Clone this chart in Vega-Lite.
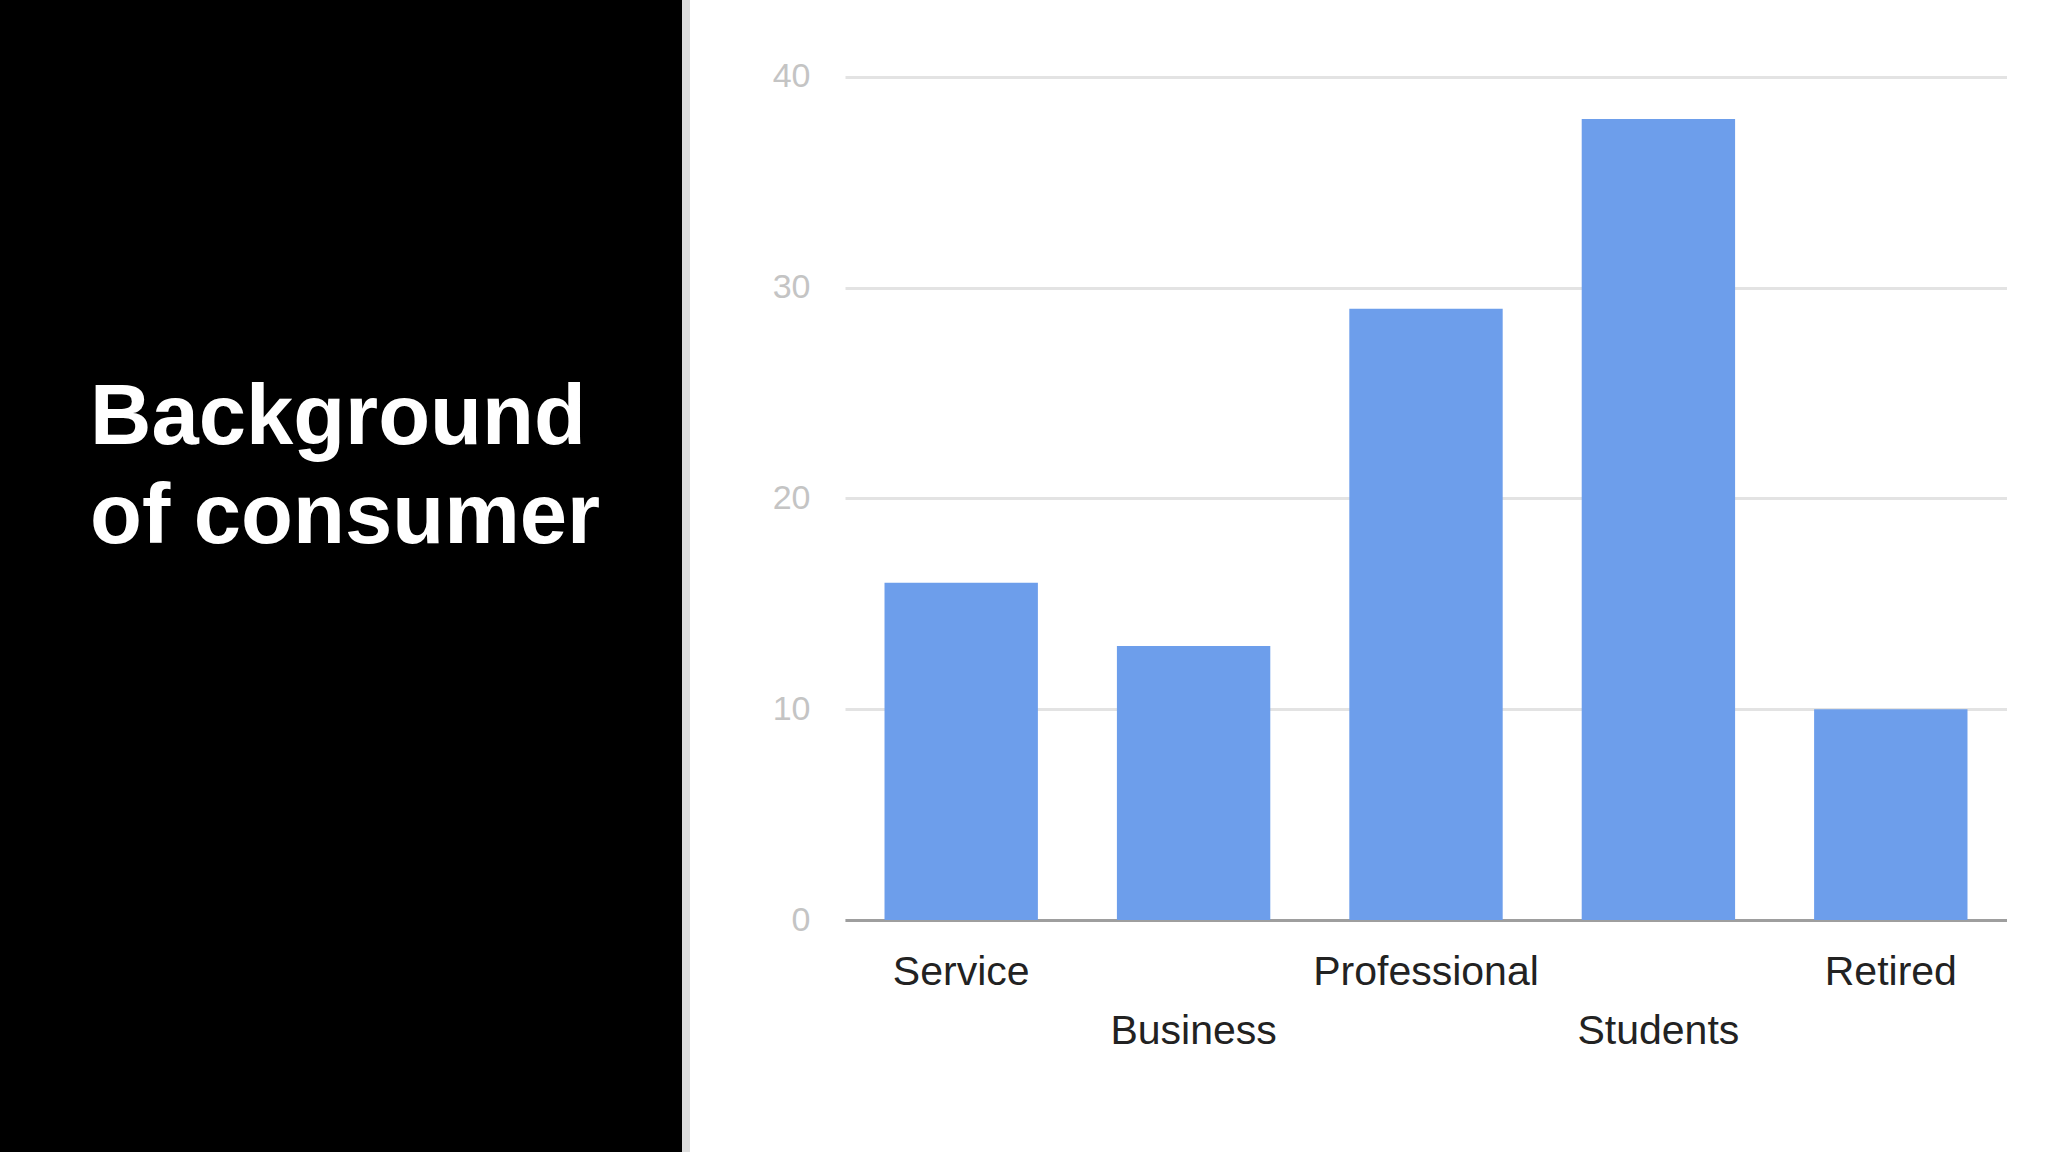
{
  "$schema": "https://vega.github.io/schema/vega-lite/v6.json",
  "padding": 0,
  "spacing": 0,
  "background": "white",
  "bounds": "full",
  "config": {"view": {"stroke": null}},
  "title": {
    "text": ["Background", "of consumer"],
    "anchor": "start",
    "frame": "group",
    "orient": "top",
    "offset": 0,
    "dx": 90,
    "dy": 628,
    "baseline": "alphabetic",
    "lineHeight": 99,
    "font": "Liberation Sans",
    "fontSize": 85,
    "fontWeight": "bold",
    "color": "#ffffff"
  },
  "hconcat": [
    {
      "width": 682,
      "height": 1152,
      "view": {"fill": "#000000", "stroke": null},
      "data": {"values": [{}]},
      "mark": {"type": "point", "opacity": 0},
      "encoding": {}
    },
    {
      "width": 8,
      "height": 1152,
      "view": {"fill": "#dcdcdc", "stroke": null},
      "data": {"values": [{}]},
      "mark": {"type": "point", "opacity": 0},
      "encoding": {}
    },
    {
      "width": 1162,
      "height": 920,
      "data": {
        "values": [
          {"category": "Service", "count": 16},
          {"category": "Business", "count": 13},
          {"category": "Professional", "count": 29},
          {"category": "Students", "count": 38},
          {"category": "Retired", "count": 10}
        ]
      },
      "mark": {"type": "bar", "color": "#6d9eeb"},
      "encoding": {
        "x": {
          "field": "category",
          "type": "nominal",
          "sort": null,
          "scale": {"paddingInner": 0.34, "paddingOuter": 0.17},
          "axis": {
            "title": null,
            "grid": false,
            "ticks": false,
            "tickSize": 0,
            "domain": true,
            "domainColor": "#9e9e9e",
            "domainWidth": 3,
            "labelAngle": 0,
            "labelFont": "Liberation Sans",
            "labelFontSize": 41,
            "labelColor": "#222222",
            "labelBaseline": "alphabetic",
            "labelPadding": {
              "condition": {"test": "indexof(['Business','Students'], datum.value) >= 0", "value": 123},
              "value": 64
            },
            "labelOverlap": false,
            "labelLimit": 0
          }
        },
        "y": {
          "field": "count",
          "type": "quantitative",
          "scale": {"domain": [0, 43.65], "nice": false, "zero": true},
          "axis": {
            "title": null,
            "values": [0, 10, 20, 30, 40],
            "grid": true,
            "gridColor": "#e3e3e3",
            "gridWidth": 3,
            "domain": false,
            "ticks": false,
            "tickSize": 0,
            "labelFont": "Liberation Sans",
            "labelFontSize": 34,
            "labelColor": "#c4c4c4",
            "labelPadding": 35,
            "minExtent": 155,
            "maxExtent": 155
          }
        }
      }
    }
  ]
}
